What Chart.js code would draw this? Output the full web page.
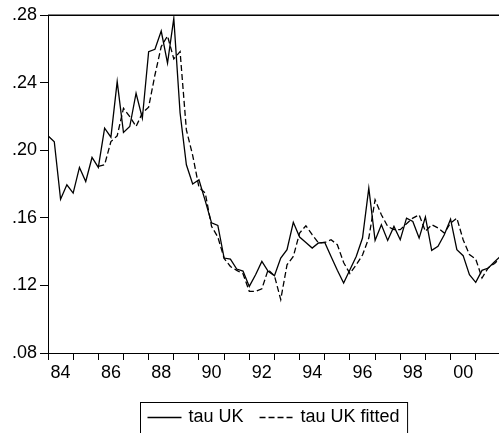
<!DOCTYPE html>
<html><head><meta charset="utf-8">
<script src="https://cdn.jsdelivr.net/npm/chart.js@4/dist/chart.umd.min.js"></script>
<style>html,body{margin:0;padding:0;background:#fff;overflow:hidden}#wrap{width:499px;height:433px;position:relative}</style>
</head><body><div id="wrap"><canvas id="c" width="499" height="433"></canvas></div>
<script>
// Quarterly observations, 1984Q1 onward
const startYear = 1984;
const tauUK = [
  .2085,.205,.171,.1795, .1746,.1898,.1815,.1957, .1898,.213,.2077,.2406,
  .2105,.214,.2337,.2189, .2583,.2597,.2705,.2515, .278,.222,.1914,.180,
  .1825,.170,.157,.1555, .1362,.1355,.1297,.1285, .1194,.1263,.1342,.1283,
  .1257,.1362,.1411,.1573, .1486,.1454,.1421,.1451, .1454,.1371,.129,.1214,
  .1293,.1371,.148,.1776, .1466,.1559,.1466,.1549, .147,.1598,.1578,.148,
  .1605,.1407,.1431,.150, .1592,.1411,.1376,.1263, .1218,.1289,.1303,.134,
  .1375
];
const tauUKFitted = [
  null,null,null,null, null,null,null,null, .1904,.1914,.2051,.2085,
  .2248,.2199,.214,.222, .2255,.2445,.2613,.2676, .254,.2583,.212,.197,
  .178,.1746,.155,.1486, .136,.1312,.1289,.1269, .1165,.1165,.118,.1293,
  .1257,.1116,.1322,.1371, .151,.1553,.150,.1451, .1454,.147,.1441,.1335,
  .127,.1322,.138,.148, .1707,.1618,.1549,.153, .153,.1565,.1598,.1618,
  .152,.1559,.154,.151, .1569,.1598,.147,.1382, .1356,.1244,.1305,.133,
  .1365
];
const seriesNames = ['tau UK', 'tau UK fitted'];
const yTickValues = [.08, .12, .16, .20, .24, .28];
const yTickLabels = ['.08', '.12', '.16', '.20', '.24', '.28'];
const xYearLabels = ['84', '86', '88', '90', '92', '94', '96', '98', '00'];

const quarterLabels = tauUK.map((_, i) => (startYear + Math.floor(i / 4)) + 'Q' + (i % 4 + 1));
const toPoints = arr => arr.map((v, i) => ({ x: i, y: v, q: quarterLabels[i] }));

const FONT = 'Liberation Sans, Arial, Helvetica, sans-serif';
const tickFont = { family: FONT, size: 18 };

// x ticks: year boundaries every 4 quarters, labels at mid-year of even years
const xTickVals = [];
for (let v = 0; v <= 70; v += 2) xTickVals.push(v);
const xLabelAt = {};
xYearLabels.forEach((l, k) => { xLabelAt[2 + 8 * k] = l; });

const framePlugin = {
  id: 'frame',
  afterDraw(chart) {
    const { ctx, chartArea } = chart;
    ctx.save();
    ctx.strokeStyle = '#000';
    ctx.lineWidth = 1.5;
    ctx.beginPath();
    ctx.moveTo(chartArea.left, chartArea.top + 0.25);
    ctx.lineTo(chart.width, chartArea.top + 0.25);
    ctx.stroke();
    ctx.restore();
  }
};

const legendPlugin = {
  id: 'boxLegend',
  afterDraw(chart) {
    const { ctx, chartArea } = chart;
    const ds = chart.data.datasets;
    ctx.save();
    ctx.font = '18px ' + FONT;
    const padL = 7, lineW = 34, gapT = 7, gapItem = 16, padR = 8;
    const w0 = ctx.measureText(ds[0].label).width;
    const w1 = ctx.measureText(ds[1].label).width;
    const total = padL + lineW + gapT + w0 + gapItem + lineW + gapT + w1 + padR;
    const cx = (chartArea.left + chartArea.right) / 2;
    const left = Math.round(cx - total / 2) + 0.5;
    const top = 402.5;
    const cy = 417.5;
    ctx.strokeStyle = '#000';
    ctx.lineWidth = 1;
    ctx.strokeRect(left, top, total, 60);
    let x = left + padL;
    [0, 1].forEach(k => {
      ctx.beginPath();
      ctx.setLineDash(ds[k].borderDash || []);
      ctx.lineWidth = 1.3;
      ctx.moveTo(x, cy); ctx.lineTo(x + lineW, cy);
      ctx.stroke();
      ctx.setLineDash([]);
      x += lineW + gapT;
      ctx.fillStyle = '#000';
      ctx.textBaseline = 'middle';
      ctx.textAlign = 'left';
      ctx.fillText(ds[k].label, x, cy);
      x += (k === 0 ? w0 : w1) + gapItem;
    });
    ctx.restore();
  }
};

new Chart(document.getElementById('c'), {
  type: 'line',
  data: {
    datasets: [
      { label: seriesNames[0], data: toPoints(tauUK), borderColor: '#000', borderWidth: 1.3,
        pointRadius: 0, tension: 0, fill: false },
      { label: seriesNames[1], data: toPoints(tauUKFitted), borderColor: '#000', borderWidth: 1.3,
        borderDash: [6, 3], pointRadius: 0, tension: 0, fill: false, spanGaps: false }
    ]
  },
  options: {
    responsive: false,
    animation: false,
    devicePixelRatio: 1,
    layout: { padding: { top: 15, right: 0, bottom: 50, left: 0 } },
    plugins: { legend: { display: false }, tooltip: { enabled: false } },
    scales: {
      x: {
        type: 'linear', min: 0, max: 71.7,
        afterBuildTicks: s => { s.ticks = xTickVals.map(v => ({ value: v })); },
        afterFit: s => { s.height = 30; },
        ticks: {
          autoSkip: false, maxRotation: 0, minRotation: 0, color: '#000', font: tickFont, padding: 2,
          callback: v => (xLabelAt[v] !== undefined ? xLabelAt[v] : '')
        },
        grid: {
          drawOnChartArea: false, drawTicks: true, tickLength: 7, tickWidth: 1,
          tickColor: c => (c.tick && c.tick.value % 4 === 0 ? '#000' : 'rgba(0,0,0,0)')
        },
        border: { display: true, color: '#000', width: 1 }
      },
      y: {
        min: .08, max: .28,
        afterBuildTicks: s => { s.ticks = yTickValues.map(v => ({ value: v })); },
        afterFit: s => { s.width = 48; },
        ticks: {
          color: '#000', font: tickFont, padding: 3,
          callback: (v, i) => yTickLabels[i]
        },
        grid: { drawOnChartArea: false, drawTicks: true, tickLength: 8, tickWidth: 1, tickColor: '#000' },
        border: { display: true, color: '#000', width: 1 }
      }
    }
  },
  plugins: [framePlugin, legendPlugin]
});
</script>
</body></html>
